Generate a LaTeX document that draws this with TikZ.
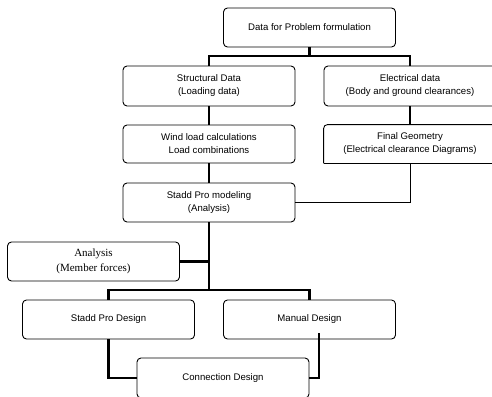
\documentclass[tikz,border=0pt]{standalone}
\usepackage{fontspec}
\setmainfont{Liberation Sans}
\newfontfamily\serifface{Liberation Serif}
\begin{document}
\begin{tikzpicture}[x=1pt,y=-1pt,
  box/.style={draw=black,line width=0.9pt,rounded corners=4pt,fill=white,align=center,
    inner sep=0pt,font=\fontsize{9.6}{13}\selectfont},
  wbox/.style={box,minimum width=172pt,minimum height=39pt},
  thickline/.style={line width=2.6pt},
  thinline/.style={line width=1pt},
  midline/.style={line width=1.6pt}]
\useasboundingbox (0,0) rectangle (492,396);
\clip (0,0) rectangle (492,396);
\node[wbox] (top) at (309.5,27.5) {Data for Problem formulation};
\node[wbox,minimum height=40pt] (struct) at (209,86) {Structural Data\\(Loading data)};
\node[wbox,minimum height=40pt] (elec) at (410,86) {Electrical data\\(Body and ground clearances)};
\node[wbox,minimum height=38pt] (wind) at (209,144) {Wind load calculations\\Load combinations};
\node[wbox,minimum height=38pt,draw=none] (geom) at (410,144) {Final Geometry\\(Electrical clearance Diagrams)};
\draw[line width=0.9pt,rounded corners=4pt] (geom.south west) -- (geom.north west) -- (geom.north east) -- (geom.south east);
\draw[midline] (geom.south west) -- (geom.south east);
\node[wbox] (stadd) at (209,202.5) {Stadd Pro modeling\\(Analysis)};
\node[wbox,font=\serifface\fontsize{11}{15}\selectfont] (analysis) at (93.5,261.5) {Analysis\\(Member forces)};
\node[wbox] (spd) at (108.5,319.5) {Stadd Pro Design};
\node[wbox] (manual) at (309.5,319.5) {Manual Design};
\node[wbox,minimum height=40pt] (conn) at (223,378) {Connection Design};
\coordinate (busA) at (309.5,56);
\coordinate (busB) at (209,290);
\coordinate (mstart) at (319,333);
\draw[thickline] (top.south) -- (busA);
\draw[thickline] (busA) -| (struct.north);
\draw[thickline] (busA) -| (elec.north);
\draw[thickline] (struct.south) -- (wind.north);
\draw[thickline] (elec.south) -- (geom.north);
\draw[thickline] (wind.south) -- (stadd.north);
\draw[thinline] (geom.south) |- (stadd.east);
\draw[thickline] (stadd.south) -- (busB);
\draw[thickline] (analysis.east) -- (analysis.east -| busB);
\draw[thickline] (busB) -| (spd.north);
\draw[thickline] (busB) -| (manual.north);
\draw[thickline] (spd.south) |- (conn.west);
\draw[midline] (mstart) |- (conn.east);
\end{tikzpicture}
\end{document}
